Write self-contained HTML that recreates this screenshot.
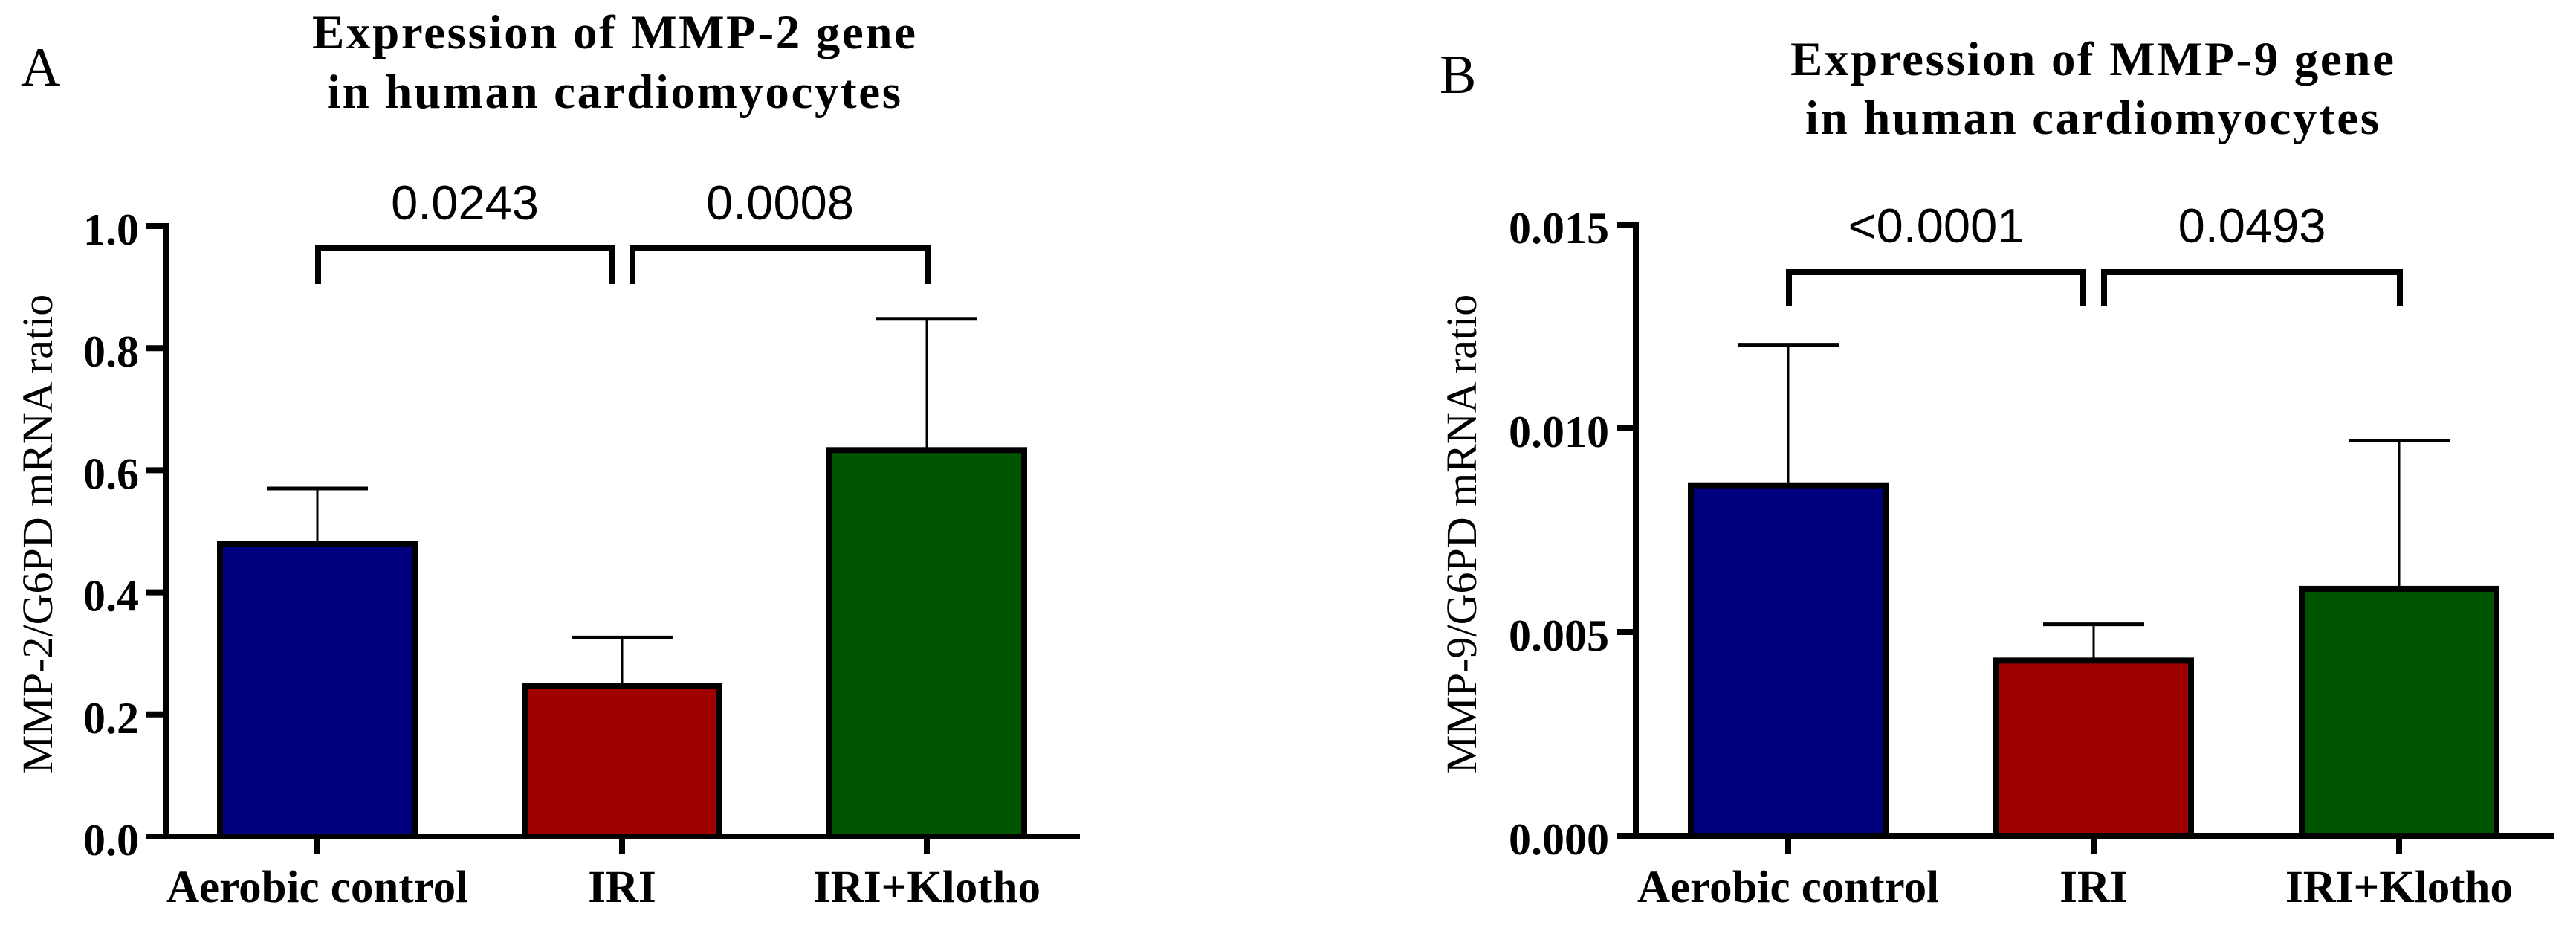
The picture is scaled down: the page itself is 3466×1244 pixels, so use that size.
<!DOCTYPE html>
<html><head><meta charset="utf-8"><style>
html,body{margin:0;padding:0;background:#fff;}
svg{display:block;}
</style></head><body>
<svg id="fig" width="3466" height="1244" viewBox="0 0 3466 1244" xmlns="http://www.w3.org/2000/svg">
<g id="pa">
  <text x="28" y="115" font-family="Liberation Serif, serif" font-size="74">A</text>
  <text x="826" y="65" text-anchor="middle" textLength="812" lengthAdjust="spacing" font-family="Liberation Serif, serif" font-weight="bold" font-size="65">Expression of MMP-2 gene</text>
  <text x="826" y="145" text-anchor="middle" textLength="772" lengthAdjust="spacing" font-family="Liberation Serif, serif" font-weight="bold" font-size="65">in human cardiomyocytes</text>
  <text transform="translate(70,718) rotate(-90)" text-anchor="middle" font-family="Liberation Serif, serif" font-size="58">MMP-2/G6PD mRNA ratio</text>
</g>
<g id="pb">
  <text x="1937" y="125" font-family="Liberation Serif, serif" font-size="74">B</text>
  <text x="2815" y="101" text-anchor="middle" textLength="812" lengthAdjust="spacing" font-family="Liberation Serif, serif" font-weight="bold" font-size="65">Expression of MMP-9 gene</text>
  <text x="2815" y="180" text-anchor="middle" textLength="772" lengthAdjust="spacing" font-family="Liberation Serif, serif" font-weight="bold" font-size="65">in human cardiomyocytes</text>
  <text transform="translate(1986,718) rotate(-90)" text-anchor="middle" font-family="Liberation Serif, serif" font-size="58">MMP-9/G6PD mRNA ratio</text>
</g>
</svg>
<script>
const categories = ["Aerobic control", "IRI", "IRI+Klotho"];
const colors = ["#00007f", "#9f0000", "#005400"];
const meansA = [0.479, 0.247, 0.633];
const errA = [0.570, 0.326, 0.848];
const ticksA = ["0.0", "0.2", "0.4", "0.6", "0.8", "1.0"];
const tickValsA = [0, 0.2, 0.4, 0.6, 0.8, 1.0];
const pLabelsA = ["0.0243", "0.0008"];
const meansB = [0.0086, 0.0043, 0.00606];
const errB = [0.01205, 0.00519, 0.0097];
const ticksB = ["0.000", "0.005", "0.010", "0.015"];
const tickValsB = [0, 0.005, 0.010, 0.015];
const pLabelsB = ["<0.0001", "0.0493"];

const NS = "http://www.w3.org/2000/svg";
function mk(tag, attrs, parent) {
  const e = document.createElementNS(NS, tag);
  for (const k in attrs) e.setAttribute(k, attrs[k]);
  parent.appendChild(e);
  return e;
}

function drawPanel(g, cfg, means, errs, ticks, tickVals, pLabels, tag) {
  const y = v => cfg.y0 - (v / cfg.vmax) * (cfg.y0 - cfg.yTop);
  const cx = i => cfg.c0 + i * cfg.step;
  means.forEach((m, i) => {
    const el = mk("line", {x1: cx(i), x2: cx(i), y1: y(errs[i]), y2: y(m), stroke: "#000", "stroke-width": 3}, g);
    
    
    const cap = mk("line", {x1: cx(i) - 68, x2: cx(i) + 68, y1: y(errs[i]), y2: y(errs[i]), stroke: "#000", "stroke-width": 5}, g);
    
    
    const r = mk("rect", {x: cx(i) - 131, y: y(m), width: 262, height: y(0) - y(m), fill: colors[i], stroke: "#000", "stroke-width": 8}, g);
    
    
  });
  const ya = mk("line", {x1: cfg.ax, x2: cfg.ax, y1: y(cfg.vmax) - 4, y2: y(0) + 4, stroke: "#000", "stroke-width": 8}, g);
  
  
  const xa = mk("line", {x1: cfg.ax - 26, x2: cfg.xEnd, y1: y(0), y2: y(0), stroke: "#000", "stroke-width": 8}, g);
  
  
  tickVals.forEach((v, i) => {
    const t = mk("line", {x1: cfg.ax - 26, x2: cfg.ax, y1: y(v), y2: y(v), stroke: "#000", "stroke-width": 8}, g);
    
    
    const lb = mk("text", {x: cfg.ax - 36, y: y(v) + 25, "text-anchor": "end", "font-family": "Liberation Serif, serif", "font-weight": "bold", "font-size": 60}, g);
    lb.textContent = ticks[i];
    
    
  });
  categories.forEach((c, i) => {
    const t = mk("line", {x1: cx(i), x2: cx(i), y1: y(0), y2: y(0) + 24, stroke: "#000", "stroke-width": 8}, g);
    
    
    const lb = mk("text", {x: cx(i), y: 1213, "text-anchor": "middle", "font-family": "Liberation Serif, serif", "font-weight": "bold", "font-size": 61}, g);
    lb.textContent = c;
    
    
  });
  pLabels.forEach((p, k) => {
    const xl = k === 0 ? cx(0) + 1 : cx(1) + 14;
    const xr = k === 0 ? cx(1) - 14 : cx(2) + 1;
    const br = mk("polyline", {points: xl + "," + cfg.bBot + " " + xl + "," + cfg.bTop + " " + xr + "," + cfg.bTop + " " + xr + "," + cfg.bBot, fill: "none", stroke: "#000", "stroke-width": 8}, g);
    
    
    const tx = mk("text", {x: (xl + xr) / 2, y: cfg.pY, "text-anchor": "middle", "font-family": "Liberation Sans, sans-serif", "font-size": 65}, g);
    tx.textContent = p;
    
    
  });
}

drawPanel(document.getElementById("pa"),
  {y0: 1125, yTop: 304, vmax: 1.0, c0: 427, step: 410, ax: 223, xEnd: 1453, bTop: 334, bBot: 382, pY: 295},
  meansA, errA, ticksA, tickValsA, pLabelsA, "a");
drawPanel(document.getElementById("pb"),
  {y0: 1124, yTop: 302, vmax: 0.015, c0: 2406, step: 411, ax: 2201, xEnd: 3436, bTop: 366, bBot: 412, pY: 326},
  meansB, errB, ticksB, tickValsB, pLabelsB, "b");
</script>
</body></html>
